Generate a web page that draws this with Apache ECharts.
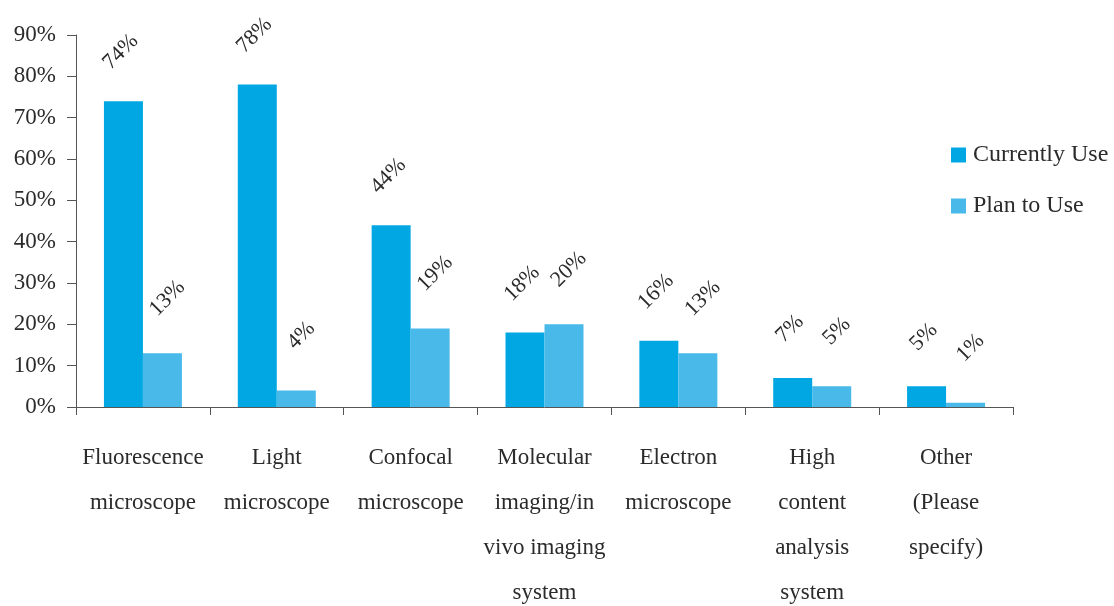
<!DOCTYPE html>
<html>
<head>
<meta charset="utf-8">
<script src="https://cdn.jsdelivr.net/npm/echarts@6/dist/echarts.min.js"></script>
<style>
  html, body { margin: 0; padding: 0; background: #fff; overflow: hidden; }
  #chart { width: 1114px; height: 606px; }
</style>
</head>
<body>
<div id="chart"></div>
<script>
// Microscopy techniques: share of respondents (%)
const categories = [
  'Fluorescence\nmicroscope',
  'Light\nmicroscope',
  'Confocal\nmicroscope',
  'Molecular\nimaging/in\nvivo imaging\nsystem',
  'Electron\nmicroscope',
  'High\ncontent\nanalysis\nsystem',
  'Other\n(Please\nspecify)'
];
const currentlyUse = [74, 78, 44, 18, 16, 7, 5];
const planToUse = [13, 4, 19, 20, 13, 5, 1];
const seriesNames = ['Currently Use', 'Plan to Use'];

const FONT = '"Liberation Serif", "DejaVu Serif", serif';
const TEXT = '#2b2b2b';
const AXIS = '#555';

const chart = echarts.init(document.getElementById('chart'));

function valueLabel(offsetX, dist) {
  return {
    show: true,
    position: 'top',
    distance: dist,
    rotate: 45,
    align: 'center',
    verticalAlign: 'middle',
    offset: [offsetX, 0],
    formatter: '{c}%',
    fontFamily: FONT,
    fontSize: 22,
    color: TEXT
  };
}

chart.setOption({
  backgroundColor: '#fff',
  animation: false,
  grid: {
    left: 76, top: 35, width: 937, height: 372,
    containLabel: false,
    outerBoundsMode: 'none'
  },
  legend: {
    orient: 'vertical',
    left: 946,
    top: 138,
    itemWidth: 15,
    itemHeight: 15,
    itemGap: 27,
    icon: 'rect',
    textStyle: { fontFamily: FONT, fontSize: 24, color: TEXT, padding: [0, 0, 0, 2] },
    data: seriesNames
  },
  xAxis: {
    type: 'category',
    data: categories,
    axisLine: { lineStyle: { color: AXIS, width: 1 } },
    axisTick: { show: true, length: 8, lineStyle: { color: AXIS } },
    axisLabel: {
      interval: 0,
      margin: 28,
      fontFamily: FONT,
      fontSize: 23,
      lineHeight: 45,
      color: TEXT,
      align: 'center'
    }
  },
  yAxis: {
    type: 'value',
    min: 0,
    max: 90,
    interval: 10,
    splitLine: { show: false },
    axisLine: { show: true, lineStyle: { color: AXIS, width: 1 } },
    axisTick: { show: true, length: 9, lineStyle: { color: AXIS } },
    axisLabel: {
      formatter: '{value}%',
      margin: 20,
      fontFamily: FONT,
      fontSize: 23,
      color: TEXT
    }
  },
  series: [
    {
      name: seriesNames[0],
      type: 'bar',
      data: currentlyUse,
      barWidth: 39,
      barGap: '0%',
      itemStyle: { color: '#00A7E3' },
      label: valueLabel(-4, 52)
    },
    {
      name: seriesNames[1],
      type: 'bar',
      data: planToUse,
      barWidth: 39,
      barGap: '0%',
      itemStyle: { color: '#48B9E9' },
      label: valueLabel(7, 50)
    }
  ]
});
</script>
</body>
</html>
